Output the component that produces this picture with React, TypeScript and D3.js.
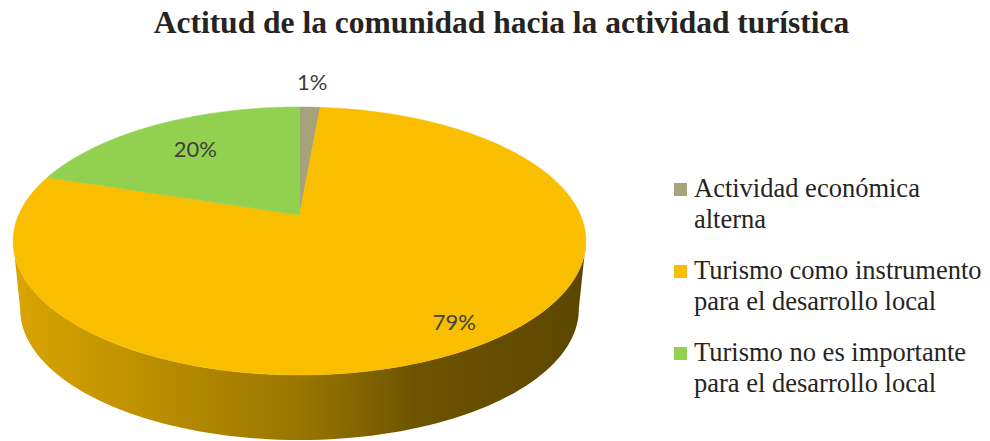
import { useEffect, useRef } from 'react';
import * as d3 from 'd3';

const title = 'Actitud de la comunidad hacia la actividad turística';
const categories = [
  'Actividad económica alterna',
  'Turismo como instrumento para el desarrollo local',
  'Turismo no es importante para el desarrollo local',
];
const values = [1.4, 78.6, 20];
const colors = ['#A6A27C', '#F9BE00', '#92D050'];

// label distance from centre (fraction of radius), per slice
const labelRadius = [1.29, 0.86, 0.7];

const W = 990;
const H = 441;

// 3D pie projection (tilted disc seen in perspective)
const cx = 299.5;
const cy = 215;
const A = 281; // horizontal radius
const B = 129; // vertical radius
const k = 0.194; // perspective factor
const depth = 69;
const shrink = 0.975; // bottom disc is a little further away

const project = (theta: number, r: number, bottom = false): [number, number] => {
  const u = r * Math.sin(theta);
  const v = r * Math.cos(theta);
  const d = 1 + k * v;
  const s = bottom ? shrink : 1;
  return [cx + (A * s * u) / d, cy - (B * s * v) / d + (bottom ? depth : 0)];
};

const wrap = (text: string, maxChars: number) => {
  const lines: string[] = [];
  let cur = '';
  text.split(' ').forEach(w => {
    const next = cur ? cur + ' ' + w : w;
    if (next.length > maxChars && cur) {
      lines.push(cur);
      cur = w;
    } else cur = next;
  });
  if (cur) lines.push(cur);
  return lines;
};

const App = () => {
  const svgRef = useRef<SVGSVGElement>(null);

  useEffect(() => {
    if (!svgRef.current) return;
    const svg = d3.select(svgRef.current);
    svg.selectAll('*').remove();

    const total = d3.sum(values);
    const fmt = d3.format('.0%');
    const pie = d3.pie<number>().sort(null).value(d => d);
    const arcs = pie(values);
    const line = d3.line();
    const steps = 90;

    // visible front of the side wall
    const thetaR = Math.acos(-k);
    const thetaL = 2 * Math.PI - thetaR;

    const defs = svg.append('defs');
    colors.forEach((c, i) => {
      const g = defs.append('linearGradient')
        .attr('id', `side-${i}`)
        .attr('gradientUnits', 'userSpaceOnUse')
        .attr('x1', cx - A * 1.02).attr('x2', cx + A * 1.02)
        .attr('y1', 0).attr('y2', 0);
      [[0, 0.13], [0.5, 0.38], [0.7, 0.56], [1, 0.63]].forEach(([o, t]) => {
        g.append('stop')
          .attr('offset', o)
          .attr('stop-color', d3.interpolateRgb(c, '#000')(t));
      });
    });

    // side walls
    arcs.forEach((a, i) => {
      const s0 = Math.max(a.startAngle, thetaR);
      const s1 = Math.min(a.endAngle, thetaL);
      if (s0 >= s1) return;
      const top = d3.range(steps + 1).map(j => project(s0 + ((s1 - s0) * j) / steps, 1));
      const bot = d3.range(steps + 1).map(j => project(s1 - ((s1 - s0) * j) / steps, 1, true));
      svg.append('path')
        .attr('d', line([...top, ...bot]) + 'Z')
        .attr('fill', `url(#side-${i})`);
    });

    // top faces
    arcs.forEach((a, i) => {
      const pts: [number, number][] = [project(0, 0)];
      d3.range(steps + 1).forEach(j => {
        pts.push(project(a.startAngle + ((a.endAngle - a.startAngle) * j) / steps, 1));
      });
      svg.append('path')
        .attr('d', line(pts) + 'Z')
        .attr('fill', colors[i])
        .attr('stroke', colors[i])
        .attr('stroke-width', 0.5);
    });

    // data labels
    arcs.forEach((a, i) => {
      const mid = (a.startAngle + a.endAngle) / 2;
      const [x, y] = project(mid, labelRadius[i]);
      svg.append('text')
        .attr('x', x)
        .attr('y', y)
        .attr('dy', '0.35em')
        .attr('text-anchor', 'middle')
        .style('font-family', 'Lato, "Open Sans", sans-serif')
        .style('font-size', '22px')
        .attr('fill', '#404040')
        .text(fmt(values[i] / total));
    });

    // title
    svg.append('text')
      .attr('x', 501.5)
      .attr('y', 33)
      .attr('text-anchor', 'middle')
      .style('font-family', '"Liberation Serif", "Times New Roman", serif')
      .style('font-weight', 'bold')
      .style('font-size', '31.5px')
      .attr('fill', '#27241f')
      .text(title);

    // legend
    const legend = svg.append('g').attr('transform', 'translate(674,197)');
    categories.forEach((cat, i) => {
      const g = legend.append('g').attr('transform', `translate(0,${i * 82})`);
      g.append('rect')
        .attr('x', 0).attr('y', -14)
        .attr('width', 13).attr('height', 13)
        .attr('fill', colors[i]);
      const t = g.append('text')
        .style('font-family', '"Liberation Serif", "Times New Roman", serif')
        .style('font-size', '26.5px')
        .attr('fill', '#27241f');
      wrap(cat, 24).forEach((l, j) => {
        t.append('tspan').attr('x', 20).attr('y', j * 31).text(l);
      });
    });
  }, []);

  return (
    <svg
      ref={svgRef}
      width={W}
      height={H}
      style={{ position: 'absolute', left: 0, top: 0, background: '#fff' }}
    />
  );
};

export default App;
